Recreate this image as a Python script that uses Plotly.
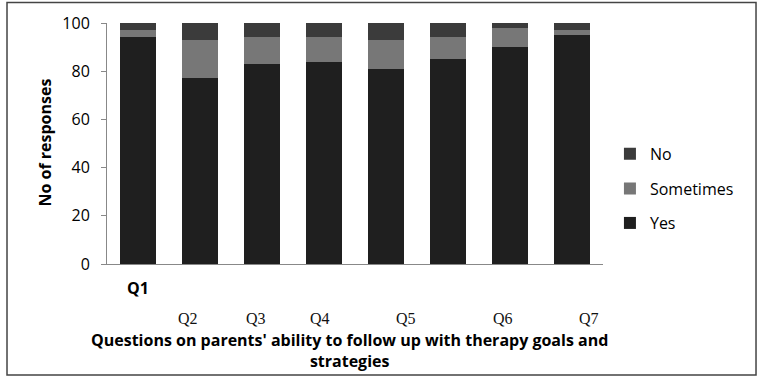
import plotly.graph_objects as go

bar_index = [0, 1, 2, 3, 4, 5, 6, 7]
tick_labels = ["Q1", "", "", "", "", "", "", ""]
yes = [94, 77, 83, 84, 81, 85, 90, 95]
sometimes = [3, 16, 11, 10, 12, 9, 8, 2]
no = [3, 7, 6, 6, 7, 6, 2, 3]
overlay_labels = ["Q2", "Q3", "Q4", "Q5", "Q6", "Q7"]
overlay_pos = [0.80, 1.90, 2.935, 4.32, 5.88, 7.27]

sans = "'Open Sans', Lato, sans-serif"
serif = "'Liberation Serif', 'Times New Roman', serif"

fig = go.Figure()
fig.add_bar(x=bar_index, y=yes, name="Yes", marker_color="#1f1f1f", width=0.57,
            marker_line_width=0, legend="legend3")
fig.add_bar(x=bar_index, y=sometimes, name="Sometimes", marker_color="#777777", width=0.57,
            marker_line_width=0, legend="legend2")
fig.add_bar(x=bar_index, y=no, name="No", marker_color="#3b3b3b", width=0.57,
            marker_line_width=0, legend="legend")

for lab, p in zip(overlay_labels, overlay_pos):
    fig.add_annotation(x=p, y=-0.228, xref="x", yref="paper", text=lab, showarrow=False,
                       font=dict(family=serif, size=16, color="#111"),
                       yanchor="middle", xanchor="center")

fig.add_annotation(x=0.489, y=-0.358, xref="paper", yref="paper",
                   text="Questions on parents' ability to follow up with therapy goals and<br>strategies",
                   showarrow=False, font=dict(family=sans, size=16, color="#000", weight="bold"),
                   yanchor="middle", xanchor="center", align="center")

fig.add_annotation(x=-0.125, y=0.504, xref="paper", yref="paper", text="No of responses",
                   textangle=-90, showarrow=False,
                   font=dict(family=sans, size=16, color="#000", weight="bold"),
                   xanchor="center", yanchor="middle")

fig.add_shape(type="rect", xref="paper", yref="paper", x0=-0.2016, x1=1.3085, y0=-0.4609, y1=1.0855,
              line=dict(color="#444", width=1.5))

leg_common = dict(x=1.014, xanchor="left", yanchor="middle",
                  font=dict(family=sans, size=16, color="#000"), itemwidth=30,
                  bgcolor="rgba(0,0,0,0)")
fig.update_layout(
    barmode="stack",
    width=762, height=384,
    margin=dict(l=107, r=159, t=21, b=120),
    paper_bgcolor="white", plot_bgcolor="white",
    showlegend=True,
    legend=dict(y=0.457, **leg_common),
    legend2=dict(y=0.313, **leg_common),
    legend3=dict(y=0.170, **leg_common),
    font=dict(family=sans, color="#000"),
)
fig.update_xaxes(range=[-0.5, 7.5], tickvals=bar_index, ticktext=tick_labels, showline=True,
                 linecolor="#888", linewidth=1, ticks="", showgrid=False, zeroline=False,
                 tickfont=dict(family=sans, size=16, color="#000", weight="bold"), ticklabelstandoff=10)
fig.update_yaxes(range=[0, 100], dtick=20, showline=True, linecolor="#888", linewidth=1,
                 ticks="outside", ticklen=5, tickcolor="#888", showgrid=False, zeroline=False,
                 tickfont=dict(family=sans, size=16, color="#000"), ticklabelstandoff=8)

fig.write_html("out.html", config={"displayModeBar": False},
               post_script="document.body.style.margin='0px';")
